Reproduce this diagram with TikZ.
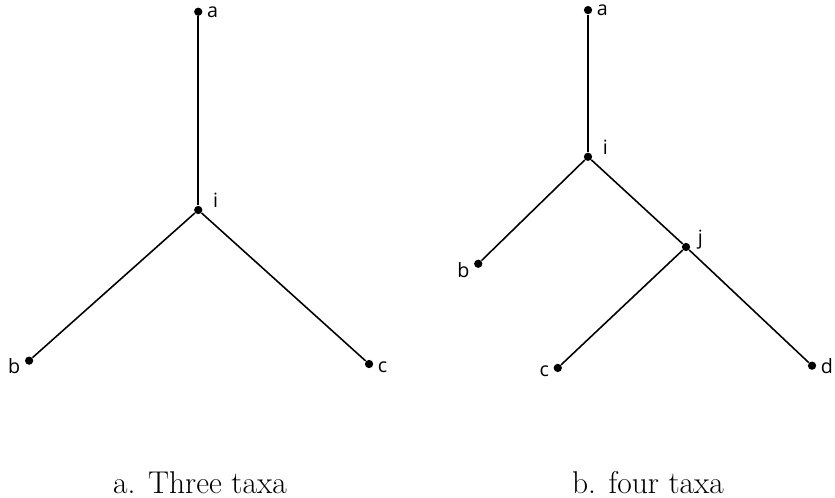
\documentclass[tikz,border=0pt]{standalone}
\usepackage{fontspec}
\newfontfamily\taxonfont{Open Sans}
\usetikzlibrary{positioning}
\tikzset{
  taxon/.style={circle, fill=black, inner sep=0pt, minimum size=4.2pt},
  branch/.style={line width=0.8pt},
  tlabel/.style={font=\taxonfont, inner sep=2pt},
  caption/.style={font=\fontsize{16}{19}\selectfont, anchor=base}
}

\begin{document}
\begin{tikzpicture}
  \useasboundingbox (0,0) rectangle (14.91,8.89);

  % three taxa
  \node[taxon, label={[tlabel]right:a}] (la) at (3.54,8.68) {};
  \node[taxon, label={[tlabel, xshift=3pt, yshift=5pt]right:i}] (li) at (3.54,5.14) {};
  \node[taxon, label={[tlabel, yshift=-3pt]left:b}] (lb) at (0.52,2.45) {};
  \node[taxon, label={[tlabel, yshift=-1.5pt]right:c}] (lc) at (6.59,2.39) {};
  \draw[branch] (la) -- (li);
  \draw[branch] (li) -- (lb);
  \draw[branch] (li) -- (lc);

  % four taxa
  \node[taxon, label={[tlabel]right:a}] (ra) at (10.50,8.71) {};
  \node[taxon, label={[tlabel, xshift=3pt, yshift=5pt]right:i}] (ri) at (10.50,6.09) {};
  \node[taxon, label={[tlabel, yshift=-3pt]left:b}] (rb) at (8.54,4.18) {};
  \node[taxon, label={[tlabel, xshift=1.5pt, yshift=3.5pt]right:j}] (rj) at (12.25,4.48) {};
  \node[taxon, label={[tlabel, yshift=-1.5pt]left:c}] (rc) at (9.96,2.32) {};
  \node[taxon, label={[tlabel]right:d}] (rd) at (14.50,2.36) {};
  \draw[branch] (ra) -- (ri);
  \draw[branch] (ri) -- (rb);
  \draw[branch] (ri) -- (rj);
  \draw[branch] (rj) -- (rc);
  \draw[branch] (rj) -- (rd);

  % captions
  \node[caption] (capa) at (3.57,0.07) {a. Three taxa};
  \node[caption] (capb) at (11.57,0.07) {b. four taxa};
\end{tikzpicture}
\end{document}
